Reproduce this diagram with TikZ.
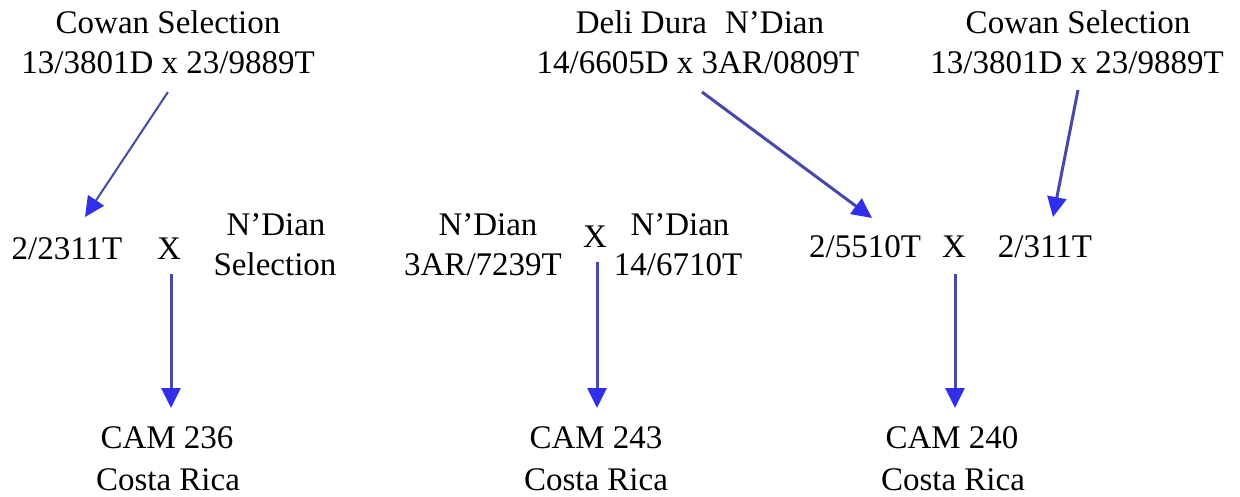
\documentclass[tikz,border=0pt]{standalone}
\usepackage{fontspec}
\setmainfont{Liberation Serif}
\usetikzlibrary{arrows.meta}
\definecolor{linec}{RGB}{72,72,168}
\definecolor{headc}{RGB}{48,48,235}
\tikzset{
  lbl/.style={anchor=base, inner sep=0pt, font=\fontsize{33}{40}\selectfont},
  conn/.style={draw=linec, line width=3pt, -{Triangle[length=20pt,width=19pt,color=headc]}},
  thinconn/.style={conn, line width=2pt}
}
\begin{document}
\begin{tikzpicture}[x=1pt,y=-1pt]
\useasboundingbox (0,0) rectangle (1240,496);
% top row
\node[lbl] (c1a) at (168,33) {Cowan Selection};
\node[lbl] (c1b) at (168,73) {13/3801D x 23/9889T};
\node[lbl] (dda) at (700,33) {Deli Dura\hspace{10pt} N’Dian};
\node[lbl] (ddb) at (698,73) {14/6605D x 3AR/0809T};
\node[lbl] (c2a) at (1078,33) {Cowan Selection};
\node[lbl] (c2b) at (1077,73) {13/3801D x 23/9889T};
% middle row
\node[lbl] (m1) at (67,259) {2/2311T};
\node[lbl] (x1) at (169,259) {X};
\node[lbl] (nd1a) at (276,235) {N’Dian};
\node[lbl] (nd1b) at (275,275) {Selection};
\node[lbl] (nd2a) at (488,235) {N’Dian};
\node[lbl] (nd2b) at (483,275) {3AR/7239T};
\node[lbl] (x2) at (595,247) {X};
\node[lbl] (nd3a) at (680,235) {N’Dian};
\node[lbl] (nd3b) at (678,275) {14/6710T};
\node[lbl] (m3) at (865,257) {2/5510T};
\node[lbl] (x3) at (954,257) {X};
\node[lbl] (m4) at (1045,257) {2/311T};
% bottom row
\node[lbl] (r1a) at (167,448) {CAM 236};
\node[lbl] (r1b) at (168,490) {Costa Rica};
\node[lbl] (r2a) at (596,448) {CAM 243};
\node[lbl] (r2b) at (596,490) {Costa Rica};
\node[lbl] (r3a) at (952,448) {CAM 240};
\node[lbl] (r3b) at (953,490) {Costa Rica};
% connector end points
\coordinate (a1s) at (168,92);
\coordinate (a1e) at (85,217);
\coordinate (a2s) at (702,92);
\coordinate (a2e) at (872,218);
\coordinate (a3s) at (1078,90);
\coordinate (a3e) at (1053,217);
\coordinate (d1s) at (171,274);
\coordinate (d1e) at (171,408);
\coordinate (d2s) at (597,262);
\coordinate (d2e) at (597,408);
\coordinate (d3s) at (955,274);
\coordinate (d3e) at (955,408);
% connectors
\draw[thinconn] (a1s) -- (a1e);
\draw[conn] (a2s) -- (a2e);
\draw[conn] (a3s) -- (a3e);
\draw[conn] (d1s) -- (d1e);
\draw[conn] (d2s) -- (d2e);
\draw[conn] (d3s) -- (d3e);
\end{tikzpicture}
\end{document}
